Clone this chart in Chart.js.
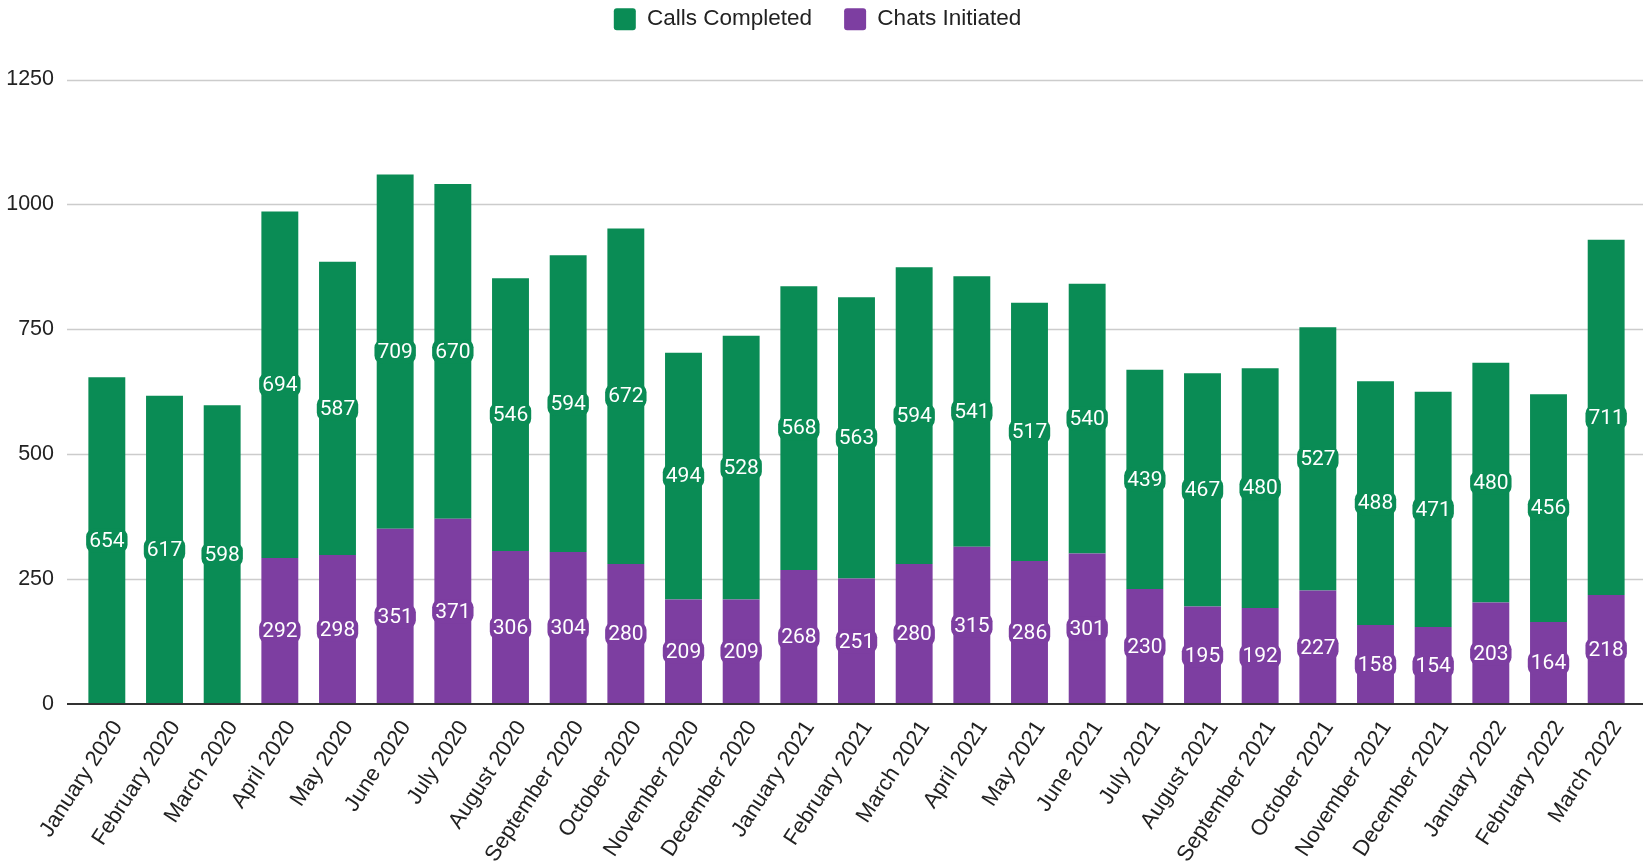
<!DOCTYPE html>
<html>
<head>
<meta charset="utf-8">
<script src="https://cdn.jsdelivr.net/npm/chart.js@4.4.1/dist/chart.umd.min.js"></script>
<style>
  html, body { margin: 0; padding: 0; background: #fff; }
  #wrap { width: 1643px; height: 867px; position: relative; }
</style>
</head>
<body>
<div id="wrap"><canvas id="chart"></canvas></div>
<script>
// chart data
const months = [
  'January 2020', 'February 2020', 'March 2020', 'April 2020', 'May 2020', 'June 2020',
  'July 2020', 'August 2020', 'September 2020', 'October 2020', 'November 2020', 'December 2020',
  'January 2021', 'February 2021', 'March 2021', 'April 2021', 'May 2021', 'June 2021',
  'July 2021', 'August 2021', 'September 2021', 'October 2021', 'November 2021', 'December 2021',
  'January 2022', 'February 2022', 'March 2022'
];
const callsCompleted = [654, 617, 598, 694, 587, 709, 670, 546, 594, 672, 494, 528, 568, 563, 594, 541, 517, 540, 439, 467, 480, 527, 488, 471, 480, 456, 711];
const chatsInitiated = [0, 0, 0, 292, 298, 351, 371, 306, 304, 280, 209, 209, 268, 251, 280, 315, 286, 301, 230, 195, 192, 227, 158, 154, 203, 164, 218];
const yTicks = [0, 250, 500, 750, 1000, 1250];

const GREEN = '#0a8c55';
const PURPLE = '#7d3ea1';
const FONT = '"Liberation Sans", Arial, sans-serif';

// make room under the legend
const legendSpace = {
  id: 'legendSpace',
  beforeInit(chart) {
    const origFit = chart.legend.fit;
    chart.legend.fit = function fit() {
      origFit.bind(chart.legend)();
      this.height += 39;
    };
  }
};

// horizontal gridlines running the full width, like the original
const gridPlugin = {
  id: 'fullGrid',
  beforeDatasetsDraw(chart) {
    const ctx = chart.ctx;
    const y = chart.scales.y;
    ctx.save();
    ctx.strokeStyle = '#cccccc';
    ctx.lineWidth = 1.5;
    yTicks.forEach(v => {
      if (v === 0) return;
      const py = Math.round(y.getPixelForValue(v)) + 0.5;
      ctx.beginPath();
      ctx.moveTo(67, py);
      ctx.lineTo(chart.width, py);
      ctx.stroke();
    });
    ctx.restore();
  },
  afterDatasetsDraw(chart) {
    const ctx = chart.ctx;
    const py = chart.scales.y.getPixelForValue(0);
    ctx.save();
    ctx.strokeStyle = '#333333';
    ctx.lineWidth = 2;
    ctx.beginPath();
    ctx.moveTo(67, py);
    ctx.lineTo(chart.width, py);
    ctx.stroke();
    ctx.restore();
  }
};

// value labels in the middle of each segment
const labelPlugin = {
  id: 'segLabels',
  afterDatasetsDraw(chart) {
    const ctx = chart.ctx;
    ctx.save();
    ctx.font = '21px Roboto, sans-serif';
    ctx.textAlign = 'center';
    ctx.textBaseline = 'middle';
    chart.data.datasets.forEach((ds, i) => {
      const meta = chart.getDatasetMeta(i);
      meta.data.forEach((bar, j) => {
        const v = ds.data[j];
        if (!v) return;
        const cy = (bar.y + bar.base) / 2;
        const txt = String(v);
        const w = ctx.measureText(txt).width + 6;
        const h = 24;
        ctx.fillStyle = ds.backgroundColor;
        ctx.beginPath();
        ctx.roundRect(bar.x - w / 2, cy - h / 2, w, h, 8);
        ctx.fill();
        ctx.fillStyle = '#ffffff';
        ctx.fillText(txt, bar.x, cy + 1);
      });
    });
    ctx.restore();
  }
};

new Chart(document.getElementById('chart'), {
  type: 'bar',
  data: {
    labels: months,
    datasets: [
      { label: 'Chats Initiated', data: chatsInitiated, backgroundColor: PURPLE, barPercentage: 0.64, categoryPercentage: 1 },
      { label: 'Calls Completed', data: callsCompleted, backgroundColor: GREEN, barPercentage: 0.64, categoryPercentage: 1 }
    ]
  },
  options: {
    responsive: true,
    maintainAspectRatio: false,
    animation: false,
    layout: { padding: { left: 0, right: 8, top: -24, bottom: 0 } },
    plugins: {
      tooltip: { enabled: false },
      legend: {
        position: 'top',
        labels: {
          sort: (a, b) => b.datasetIndex - a.datasetIndex,
          boxWidth: 22,
          boxHeight: 22,
          useBorderRadius: true,
          borderRadius: 3,
          padding: 32,
          color: '#222',
          font: { family: FONT, size: 22.5 }
        }
      }
    },
    scales: {
      x: {
        stacked: true,
        grid: { display: false },
        border: { display: false },
        afterFit(scale) { scale.height = 163; },
        ticks: {
          color: '#222',
          font: { family: FONT, size: 22 },
          minRotation: 57,
          maxRotation: 57,
          autoSkip: false,
          labelOffset: 11,
          padding: 4
        }
      },
      y: {
        stacked: true,
        min: 0,
        max: 1250,
        grid: { display: false },
        border: { display: false },
        afterFit(scale) { scale.width = 78; },
        afterBuildTicks(scale) { scale.ticks = yTicks.map(v => ({ value: v })); },
        ticks: {
          color: '#222',
          font: { family: FONT, size: 21.5 },
          padding: 16,
          callback: v => String(v)
        }
      }
    }
  },
  plugins: [legendSpace, gridPlugin, labelPlugin]
});
</script>
</body>
</html>
